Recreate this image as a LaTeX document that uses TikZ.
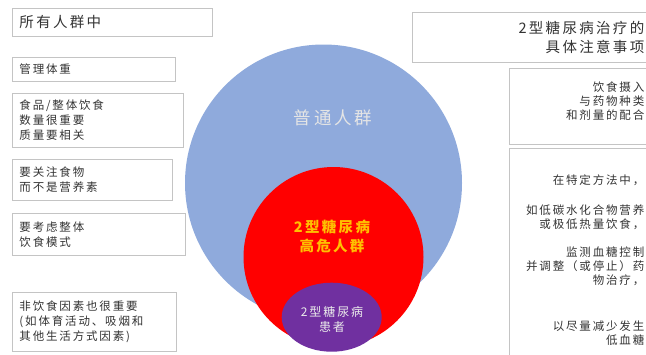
\documentclass[tikz,border=0pt]{standalone}
\usepackage{fontspec}
\newfontfamily\cjk[LetterSpace=16]{Noto Sans CJK SC}
\usetikzlibrary{shadows}
\definecolor{popblue}{HTML}{8FAADC}
\definecolor{riskred}{HTML}{FF0000}
\definecolor{patpurple}{HTML}{7030A0}
\definecolor{riskyellow}{HTML}{FFC000}
\definecolor{boxgray}{HTML}{C4C4C4}
\definecolor{txtgray}{HTML}{333333}
\begin{document}
\begin{tikzpicture}[x=1pt,y=-1pt,
  box/.style={draw=boxgray, line width=0.9pt, fill=white,
    drop shadow={shadow xshift=0.7pt, shadow yshift=-0.7pt, fill=black, opacity=0.18},
    anchor=north west, inner xsep=7pt, inner ysep=0pt, align=left,
    text=txtgray, font=\cjk\fontsize{11.5}{15}\selectfont},
  rbox/.style={draw=boxgray, line width=0.9pt, fill=white,
    drop shadow={shadow xshift=0.7pt, shadow yshift=-0.7pt, fill=black, opacity=0.18},
    anchor=north west, inner sep=0pt},
  rtxt/.style={anchor=east, align=right, inner sep=0pt, text=txtgray,
    font=\cjk\fontsize{11.5}{14}\selectfont},
  ttl/.style={font=\cjk\fontsize{14.5}{19}\selectfont}]
\useasboundingbox (0,0) rectangle (646,354);
\fill[white] (0,0) rectangle (646,354);
\begin{scope}
\clip (0,0) rectangle (646,354);
% circles
\fill[popblue] (323.5,183) circle[radius=138.5];
\fill[riskred] (333.5,257) circle[radius=90];
\fill[patpurple] (331.7,317.2) ellipse[x radius=50, y radius=34.5];
\node[text=black!10, font=\cjk\fontsize{17.5}{20}\selectfont, inner sep=0pt] (gen) at (333,118) {普通人群};
\node[text=riskyellow, font=\cjk\bfseries\fontsize{14.5}{19}\selectfont, align=center, inner sep=0pt] (risk) at (332,236) {2型糖尿病\\高危人群};
\node[text=black!8, font=\cjk\fontsize{12}{15}\selectfont, align=center, inner sep=0pt] (pat) at (332,319) {2型糖尿病\\患者};
% left boxes
\node[box, ttl, text width=186pt, minimum height=28pt] (b1) at (12,8) {所有人群中};
\node[box, text width=149pt, minimum height=24pt] (b2) at (12,57) {管理体重};
\node[box, text width=157pt, minimum height=54pt] (b3) at (12,93) {食品/整体饮食\\数量很重要\\质量要相关};
\node[box, text width=146pt, minimum height=41pt] (b4) at (12,159) {要关注食物\\而不是营养素};
\node[box, text width=159pt, minimum height=42pt] (b5) at (12,213) {要考虑整体\\饮食模式};
\node[box, text width=150pt, minimum height=59pt] (b6) at (12,292) {非饮食因素也很重要\\(如体育活动、吸烟和\\其他生活方式因素)};
% right boxes
\node[rbox, minimum width=250pt, minimum height=50pt] (r1) at (412,12) {};
\node[rbox, minimum width=150pt, minimum height=76pt] (r2) at (509,68) {};
\node[rbox, minimum width=150pt, minimum height=215pt] (r3) at (509,148) {};
\node[rtxt, ttl, text=txtgray] (r1t) at (644.5,37.5) {2型糖尿病治疗的\\具体注意事项};
\node[rtxt] (r2t) at (644.5,101) {饮食摄入\\与药物种类\\和剂量的配合};
\node[rtxt] (r3a) at (644.5,180) {在特定方法中，};
\node[rtxt] (r3b) at (644.5,217) {如低碳水化合物营养\\或极低热量饮食，};
\node[rtxt] (r3c) at (644.5,266) {监测血糖控制\\并调整（或停止）药\\物治疗，};
\node[rtxt] (r3d) at (644.5,333) {以尽量减少发生\\低血糖};
\end{scope}
\end{tikzpicture}
\end{document}
